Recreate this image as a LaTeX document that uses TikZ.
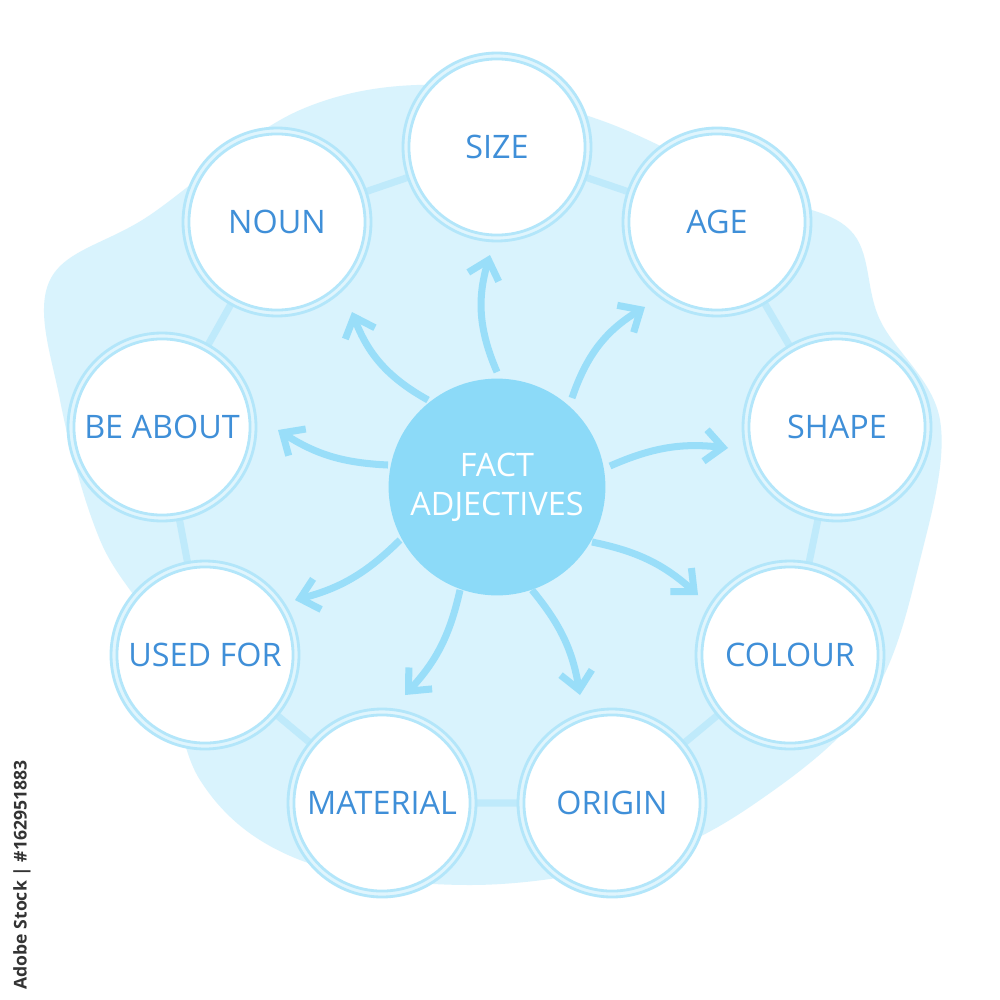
\documentclass[tikz,border=0pt]{standalone}
\usepackage{fontspec}
\setmainfont{Open Sans}
\usetikzlibrary{arrows.meta}
\definecolor{tx}{HTML}{3F8FD8}
\begin{document}
\begin{tikzpicture}[x=0.01cm,y=-0.01cm,
  itm/.style={circle,draw=cyan!30,line width=0.8pt,fill=white,inner sep=0pt,text=tx,font=\fontsize{9.2}{10}\selectfont},
  arr/.style={draw=cyan!40,line width=2pt,-{Straight Barb[length=5pt,width=9pt]}},
  ring/.style={draw=cyan!25,line width=2pt}]
\useasboundingbox (0,0) rectangle (1000,1000);
\fill[white] (0,0) rectangle (1000,1000);
\fill[cyan!15] plot[smooth cycle,tension=0.6] coordinates {(50,280) (150,215) (300,110) (450,85) (600,120) (750,190) (850,230) (880,320) (940,420) (920,560) (870,700) (760,800) (640,860) (470,885) (300,860) (200,780) (160,640) (100,540) (60,400)};
\coordinate (n1) at (497,147);
\coordinate (n2) at (717,222);
\coordinate (n3) at (837,427);
\coordinate (n4) at (790,655);
\coordinate (n5) at (612,803);
\coordinate (n6) at (382,803);
\coordinate (n7) at (205,655);
\coordinate (n8) at (162,427);
\coordinate (n9) at (277,222);
\draw[ring] (n1)--(n2)--(n3)--(n4)--(n5)--(n6)--(n7)--(n8)--(n9)--(n1);
\foreach \i/\t in {1/SIZE,2/AGE,3/SHAPE,4/COLOUR,5/ORIGIN,6/MATERIAL,7/USED FOR,8/BE ABOUT,9/NOUN}{
  \fill[cyan!12] (n\i) circle[radius=94];
  \draw[cyan!30,line width=0.8pt] (n\i) circle[radius=94];
  \node[itm,minimum size=1.76cm] (c\i) at (n\i) {\t};
}
\node[circle,fill=cyan!45!white,minimum size=1.94cm,text=white,align=center,font=\fontsize{9.2}{11}\selectfont] (c) at (497,487) {FACT\\ADJECTIVES};
\foreach \sx/\sy/\ex/\ey/\b in {497/372/490/255/20,428/400/352/312/20,388/465/278/430/15,400/540/295/600/15,460/590/405/695/15,532/590/580/695/15,592/542/698/595/15,610/466/728/448/15,572/398/645/307/20}{
  \draw[arr] (\sx,\sy) to[bend left=\b] (\ex,\ey);
}
\node[rotate=90,font=\fontsize{5}{6}\selectfont\bfseries,text=black!80] (wm) at (22,875) {Adobe Stock | \#162951883};
\end{tikzpicture}
\end{document}
